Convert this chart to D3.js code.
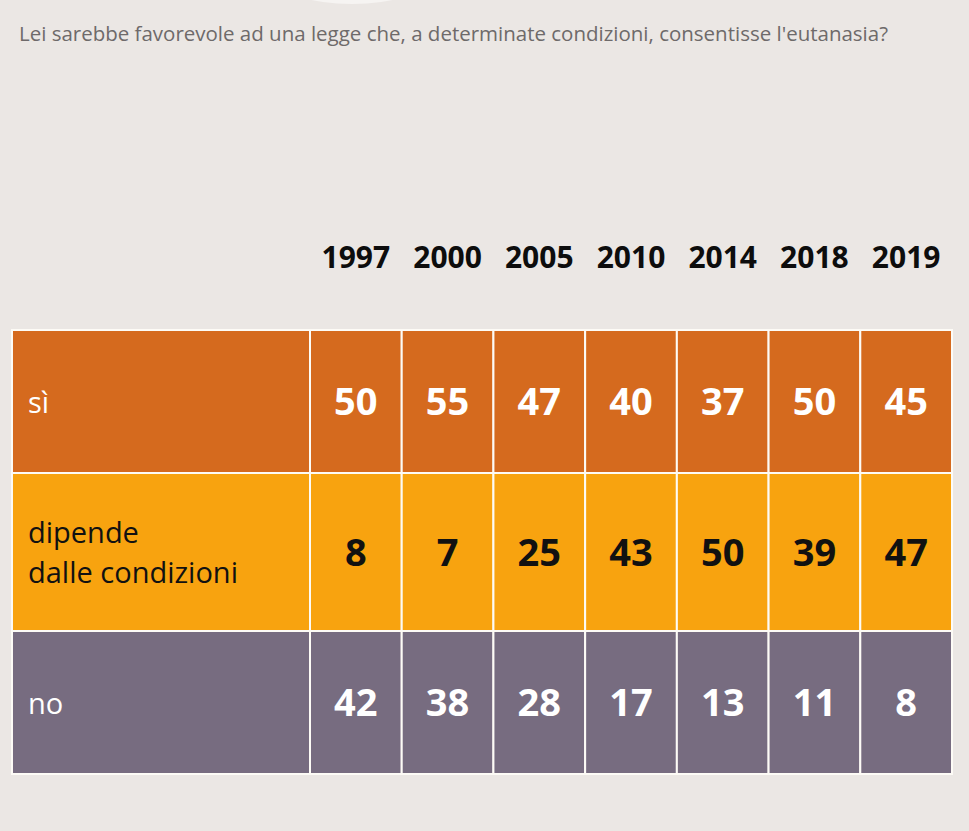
<!DOCTYPE html>
<html>
<head>
<meta charset="utf-8">
<script src="https://cdnjs.cloudflare.com/ajax/libs/d3/7.8.5/d3.min.js"></script>
<style>
  html, body { margin: 0; padding: 0; background: #ebe7e4; }
  svg { display: block; }
</style>
</head>
<body>
<div id="my_dataviz"></div>
<script>
var years = ["1997", "2000", "2005", "2010", "2014", "2018", "2019"];
var categories = ["sì", "dipende dalle condizioni", "no"];
var categoryLines = [["sì"], ["dipende", "dalle condizioni"], ["no"]];
var siValues = [50, 55, 47, 40, 37, 50, 45];
var dipendeValues = [8, 7, 25, 43, 50, 39, 47];
var noValues = [42, 38, 28, 17, 13, 11, 8];

var title = "Lei sarebbe favorevole ad una legge che, a determinate condizioni, consentisse l'eutanasia?";

var width = 969, height = 831;
var tableLeft = 12, labelRight = 310, tableRight = 952;

var svg = d3.select("#my_dataviz")
  .append("svg")
    .attr("width", width)
    .attr("height", height)
    .style("font-family", "'Open Sans', sans-serif");

svg.append("rect")
  .attr("width", width)
  .attr("height", height)
  .attr("fill", "#ebe7e4");

// faint white shape cut off at the top edge
svg.append("ellipse")
  .attr("cx", 352)
  .attr("cy", -22)
  .attr("rx", 76)
  .attr("ry", 26)
  .attr("fill", "#f6f4f2");

svg.append("text")
  .attr("x", 19)
  .attr("y", 41)
  .attr("font-size", 20)
  .attr("fill", "#6e6a6a")
  .attr("textLength", 869)
  .attr("lengthAdjust", "spacingAndGlyphs")
  .text(title);

var x = d3.scaleBand()
  .domain(years)
  .range([labelRight, tableRight]);

var rowTop = d3.scaleOrdinal()
  .domain(categories)
  .range([330, 473, 631]);
var rowHeight = d3.scaleOrdinal()
  .domain(categories)
  .range([143, 158, 143]);
var rowFill = d3.scaleOrdinal()
  .domain(categories)
  .range(["#d56a1e", "#f8a30f", "#776c80"]);
var rowInk = d3.scaleOrdinal()
  .domain(categories)
  .range(["#ffffff", "#111111", "#ffffff"]);

var rows = categories.map(function(c, i) {
  return {
    cat: c,
    lines: categoryLines[i],
    values: [siValues, dipendeValues, noValues][i]
  };
});

// year header
svg.append("g")
  .selectAll("text")
  .data(years)
  .join("text")
    .attr("x", function(d) { return x(d) + x.bandwidth() / 2; })
    .attr("y", 268)
    .attr("text-anchor", "middle")
    .attr("font-size", 30)
    .attr("font-weight", "bold")
    .attr("fill", "#0d0d0d")
    .text(function(d) { return d; });

var row = svg.append("g")
  .selectAll("g")
  .data(rows)
  .join("g");

// label cells
row.append("rect")
  .attr("x", tableLeft)
  .attr("y", function(d) { return rowTop(d.cat); })
  .attr("width", labelRight - tableLeft)
  .attr("height", function(d) { return rowHeight(d.cat); })
  .attr("fill", function(d) { return rowFill(d.cat); })
  .attr("stroke", "#fdfbf6")
  .attr("stroke-width", 2);

row.each(function(d) {
  var g = d3.select(this);
  var mid = rowTop(d.cat) + rowHeight(d.cat) / 2;
  var lh = 40;
  var n = d.lines.length;
  g.selectAll("text.label")
    .data(d.lines)
    .join("text")
      .attr("class", "label")
      .attr("x", 28)
      .attr("y", function(t, i) { return mid + 11 + (i - (n - 1) / 2) * lh; })
      .attr("font-size", 29)
      .attr("fill", rowInk(d.cat))
      .text(function(t) { return t; });

  var cells = g.selectAll("g.cell")
    .data(d.values.map(function(v, i) { return {year: years[i], value: v}; }))
    .join("g")
      .attr("class", "cell");

  cells.append("rect")
    .attr("x", function(c) { return x(c.year); })
    .attr("y", rowTop(d.cat))
    .attr("width", x.bandwidth())
    .attr("height", rowHeight(d.cat))
    .attr("fill", rowFill(d.cat))
    .attr("stroke", "#fdfbf6")
    .attr("stroke-width", 2);

  cells.append("text")
    .attr("x", function(c) { return x(c.year) + x.bandwidth() / 2; })
    .attr("y", mid + 13.5)
    .attr("text-anchor", "middle")
    .attr("font-size", 38)
    .attr("font-weight", "bold")
    .attr("fill", rowInk(d.cat))
    .text(function(c) { return c.value; });
});
</script>
</body>
</html>
